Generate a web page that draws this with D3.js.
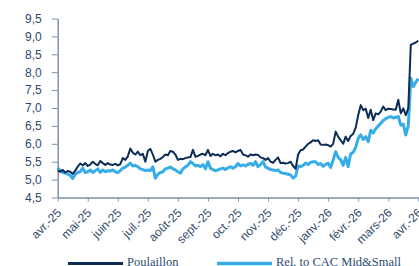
<!DOCTYPE html>
<html>
<head>
<meta charset="utf-8">
<script src="https://cdn.jsdelivr.net/npm/d3@7"></script>
<style>
  body { margin: 0; background: #fff; }
  svg { display: block; font-family: "Liberation Serif", "DejaVu Serif", serif; }
  .axis text { fill: #2f4b6e; font-size: 12px; }
  .axis path, .axis line { stroke: #7d91a7; }
</style>
</head>
<body>
<svg id="chart"></svg>
<script>
// month labels on the x axis
const months = ['avr.-25', 'mai-25', 'juin-25', 'juil.-25', 'août-25', 'sept.-25', 'oct.-25',
  'nov.-25', 'déc.-25', 'janv.-26', 'févr.-26', 'mars-26', 'avr.-26'];

const yTicks = [4.5, 5.0, 5.5, 6.0, 6.5, 7.0, 7.5, 8.0, 8.5, 9.0, 9.5];

// share price, avr.-25 -> avr.-26
const poulaillon = [
  5.25, 5.22, 5.27, 5.20, 5.24, 5.22, 5.16, 5.25, 5.36, 5.45, 5.40, 5.46, 5.38, 5.42, 5.50, 5.44,
  5.40, 5.52, 5.46, 5.41, 5.46, 5.42, 5.41, 5.44, 5.40, 5.43, 5.60, 5.55, 5.65, 5.87, 5.75, 5.70,
  5.78, 5.68, 5.72, 5.50, 5.80, 5.86, 5.70, 5.50, 5.55, 5.58, 5.63, 5.70, 5.68, 5.80, 5.78, 5.70,
  5.55, 5.58, 5.57, 5.60, 5.62, 5.63, 5.83, 5.64, 5.66, 5.70, 5.72, 5.68, 5.83, 5.66, 5.72, 5.68,
  5.70, 5.65, 5.72, 5.68, 5.74, 5.78, 5.80, 5.76, 5.80, 5.83, 5.70, 5.68, 5.64, 5.70, 5.68, 5.70,
  5.69, 5.62, 5.60, 5.55, 5.60, 5.50, 5.47, 5.55, 5.62, 5.46, 5.47, 5.45, 5.46, 5.50, 5.38, 5.30,
  5.70, 5.82, 5.84, 5.92, 6.00, 6.04, 6.10, 6.08, 6.10, 5.98, 5.97, 5.98, 5.96, 5.92, 6.00, 6.34,
  6.20, 6.10, 6.00, 6.20, 6.08, 6.22, 6.28, 6.45, 6.80, 7.08, 6.94, 6.98, 6.72, 6.95, 6.66, 6.85,
  6.82, 6.90, 7.04, 6.94, 6.98, 6.97, 6.96, 6.95, 7.23, 6.85, 6.99, 6.80, 6.99, 8.76, 8.80, 8.83,
  8.88
];

// relative to CAC Mid&Small
const relative = [
  5.33, 5.25, 5.20, 5.18, 5.15, 5.12, 5.03, 5.15, 5.20, 5.22, 5.32, 5.20, 5.22, 5.27, 5.20, 5.25,
  5.30, 5.20, 5.27, 5.22, 5.25, 5.24, 5.27, 5.22, 5.20, 5.25, 5.32, 5.35, 5.40, 5.46, 5.38, 5.40,
  5.36, 5.30, 5.28, 5.25, 5.27, 5.25, 5.36, 5.04, 5.15, 5.20, 5.22, 5.30, 5.32, 5.35, 5.30, 5.27,
  5.22, 5.18, 5.30, 5.35, 5.40, 5.50, 5.45, 5.38, 5.40, 5.36, 5.42, 5.30, 5.50, 5.32, 5.28, 5.25,
  5.27, 5.30, 5.32, 5.28, 5.33, 5.36, 5.32, 5.36, 5.45, 5.38, 5.41, 5.38, 5.43, 5.45, 5.40, 5.50,
  5.36, 5.42, 5.50, 5.35, 5.32, 5.28, 5.27, 5.25, 5.27, 5.20, 5.18, 5.17, 5.15, 5.13, 5.04, 5.10,
  5.38, 5.36, 5.40, 5.46, 5.42, 5.48, 5.50, 5.50, 5.42, 5.45, 5.37, 5.42, 5.46, 5.34, 5.55, 5.78,
  5.62, 5.55, 5.40, 5.62, 5.36, 5.72, 5.76, 5.90, 6.15, 6.25, 6.12, 6.20, 6.06, 6.38, 6.30, 6.42,
  6.50, 6.57, 6.65, 6.70, 6.74, 6.76, 6.72, 6.74, 6.76, 6.52, 6.55, 6.25, 6.50, 7.83, 7.60, 7.72,
  7.82
];

const series = [
  { name: 'Rel. to CAC Mid&Small', values: relative, color: '#36ade6', width: 3 },
  { name: 'Poulaillon', values: poulaillon, color: '#0b2c55', width: 2 }
];

const width = 419, height = 266;
const margin = { top: 18.5, left: 57.7, bottom: 68.5 };

const svg = d3.select('#chart')
    .attr('width', width)
    .attr('height', height);

const frFormat = d3.formatLocale({ decimal: ',', thousands: ' ', grouping: [3], currency: ['', ' €'] }).format('.1f');

const yScale = d3.scaleLinear()
    .domain([4.5, 9.5])
    .range([height - margin.bottom, margin.top]);

const xMonth = d3.scalePoint()
    .domain(months)
    .range([margin.left, 418.3]);

// data points sit on a month scale 0..12
const xScale = d3.scaleLinear()
    .domain([0, 12])
    .range([margin.left, 418.3]);

const n = poulaillon.length;
const line = d3.line()
    .x((d, i) => xScale(i * 12 / (n - 1)))
    .y(d => yScale(d));

// axes
const yAxisG = svg.append('g')
    .attr('class', 'axis')
    .attr('transform', `translate(${margin.left},0)`)
    .call(d3.axisLeft(yScale).tickValues(yTicks).tickFormat(frFormat).tickSize(6).tickSizeOuter(0).tickPadding(10));
yAxisG.select('.domain').attr('stroke-width', 1.5);

const xAxisG = svg.append('g')
    .attr('class', 'axis')
    .attr('transform', `translate(0,${yScale(4.5)})`)
    .call(d3.axisBottom(xMonth).tickSize(4).tickSizeOuter(0));
xAxisG.select('.domain').attr('stroke-width', 1.5);
xAxisG.selectAll('text')
    .attr('y', 0)
    .attr('x', 0)
    .attr('dy', '0.35em')
    .attr('text-anchor', 'end')
    .attr('transform', 'translate(1,13) rotate(-45)');

// lines
svg.append('g')
  .selectAll('path')
  .data(series)
  .join('path')
    .attr('fill', 'none')
    .attr('stroke', d => d.color)
    .attr('stroke-width', d => d.width)
    .attr('stroke-linejoin', 'round')
    .attr('d', d => line(d.values));

// legend
const legend = [
  { name: 'Poulaillon', color: '#0b2c55', width: 3, x: 68 },
  { name: 'Rel. to CAC Mid&Small', color: '#36ade6', width: 3.5, x: 217 }
];
const lg = svg.append('g')
  .selectAll('g')
  .data(legend)
  .join('g')
    .attr('transform', d => `translate(${d.x},263.5)`);
lg.append('line')
    .attr('x1', 0).attr('x2', 55)
    .attr('stroke', d => d.color)
    .attr('stroke-width', d => d.width);
lg.append('text')
    .attr('x', 59)
    .attr('y', 2.5)
    .attr('fill', '#2f4b6e')
    .style('font-size', '12.5px')
    .text(d => d.name);
</script>
</body>
</html>
